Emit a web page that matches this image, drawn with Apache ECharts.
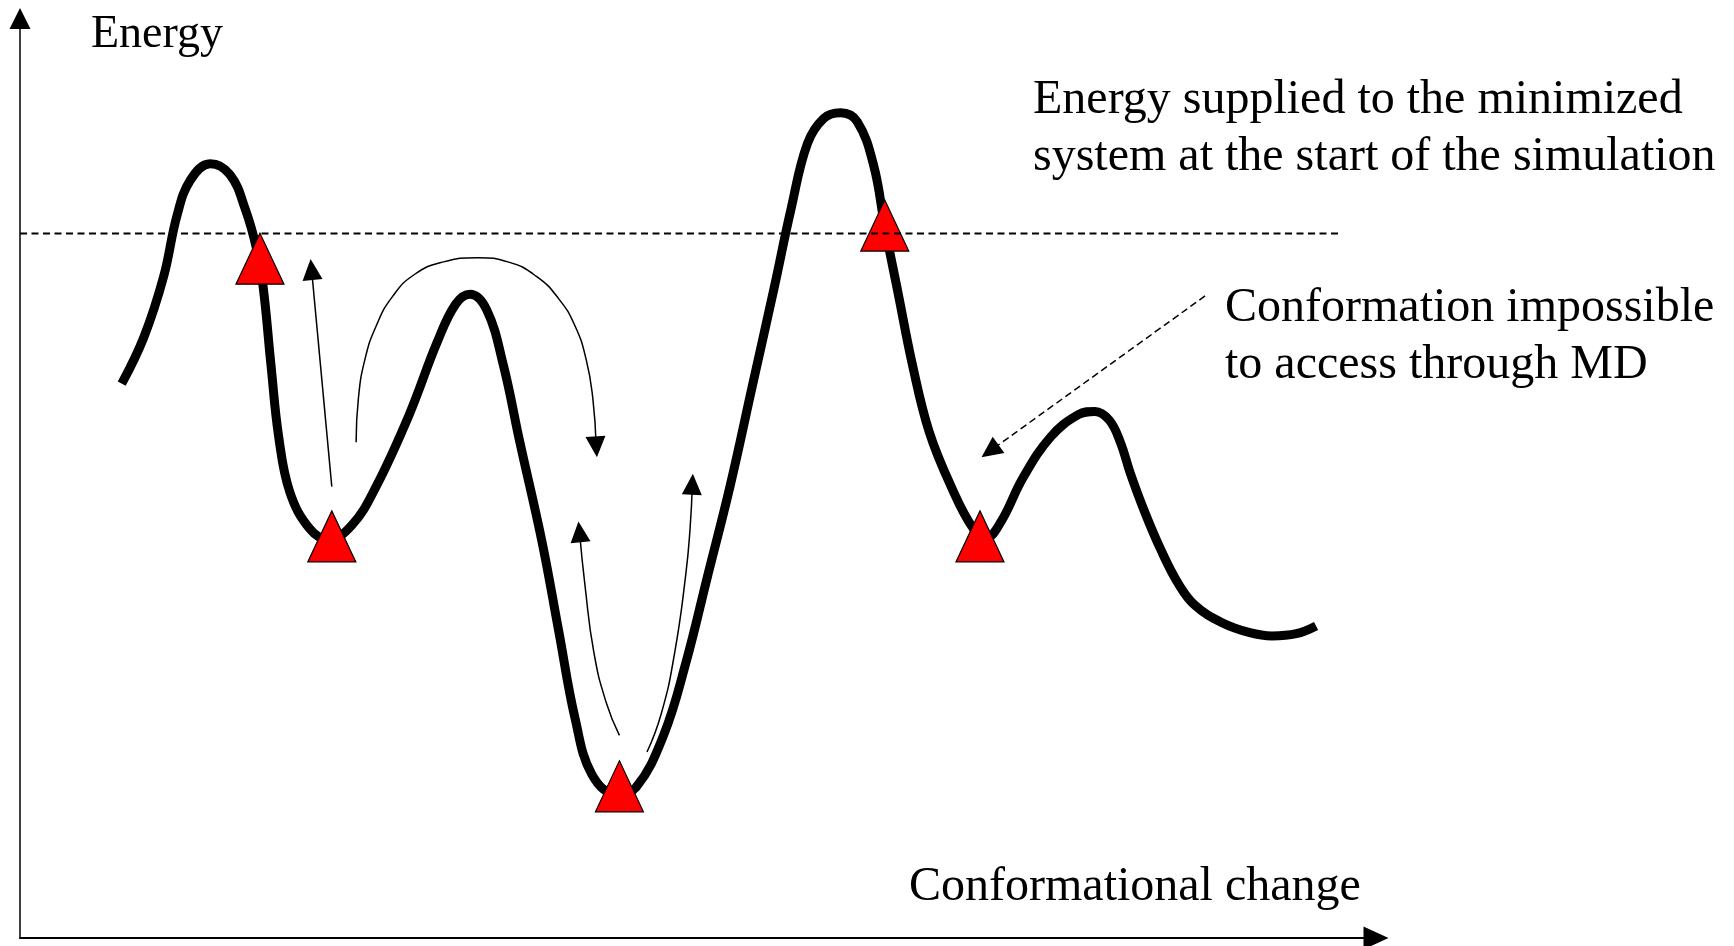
<!DOCTYPE html>
<html>
<head>
<meta charset="utf-8">
<title>Energy landscape</title>
<script src="https://cdn.jsdelivr.net/npm/echarts@6/dist/echarts.min.js"></script>
<style>
  html, body { margin: 0; padding: 0; background: #fff; }
  #chart { width: 1734px; height: 946px; }
</style>
</head>
<body>
<div id="chart"></div>
<script>
// energy profile along the conformational coordinate (arbitrary units, 0-100)
const landscape = [
  [7.49, 60.71], [9.12, 65.80], [10.58, 72.46], [11.56, 79.12], [12.54, 83.0],
  [14.0, 84.81], [15.47, 83.60], [16.61, 79.73], [17.42, 75.49], [17.91, 71.25],
  [18.48, 62.77], [19.05, 54.89], [19.87, 48.84], [21.33, 44.84], [22.72, 43.63],
  [24.43, 45.20], [26.22, 49.44], [28.66, 57.32], [30.70, 65.19], [32.08, 69.43],
  [33.14, 70.52], [34.36, 68.82], [35.59, 62.77], [36.81, 54.29], [38.44, 43.39],
  [39.66, 33.70], [40.88, 24.01], [42.10, 17.95], [43.89, 15.77], [45.36, 16.50],
  [47.39, 22.19], [49.02, 30.06], [50.65, 39.75], [52.28, 49.44], [53.91, 60.34],
  [55.54, 71.25], [56.76, 79.73], [57.98, 86.99], [59.20, 89.78], [60.42, 90.38],
  [61.65, 89.42], [62.87, 84.57], [63.68, 77.91], [64.66, 70.64], [65.72, 62.77],
  [66.94, 55.50], [68.57, 49.44], [70.20, 44.84], [71.17, 43.87], [72.23, 45.57],
  [73.86, 50.41], [75.90, 54.89], [77.93, 57.32], [79.16, 57.68], [80.22, 56.71],
  [81.03, 54.29], [81.76, 50.90], [82.82, 46.66], [84.04, 42.42], [85.26, 38.90],
  [86.49, 36.48], [88.52, 34.54], [90.56, 33.45], [92.19, 33.09], [93.98, 33.33],
  [95.44, 34.18]
];

// states visited by the simulation (red triangles)
const states = [[17.67, 74.40], [22.96, 43.99], [44.14, 16.62], [63.68, 78.03], [70.69, 43.99]];

// energy given to the minimized system (dashed level)
const suppliedLevel = [[0, 77.16], [97.2, 77.16]];

// thin arrows, tail first, last point = middle of the arrow head
const jumpBack = [[22.96, 49.44], [21.47, 73.22]];
const hopOver = [
  [24.75, 54.29], [24.92, 59.13], [25.40, 63.37], [26.22, 67.01], [27.44, 70.28],
  [29.07, 72.70], [31.11, 74.03], [33.71, 74.52], [35.99, 74.03], [38.03, 72.46],
  [39.66, 70.03], [40.88, 67.01], [41.69, 63.37], [42.18, 59.13], [42.43, 53.80]
];
const fallBack = [[44.14, 22.19], [43.16, 25.82], [42.26, 31.27], [41.61, 38.54], [41.20, 44.48]];
const climbOut = [[46.17, 20.37], [47.23, 24.61], [48.21, 31.27], [49.02, 39.75], [49.35, 45.0], [49.51, 49.69]];
const blockedPath = [[87.26, 70.32], [71.43, 53.34]];

const serif = '"Liberation Serif", "Times New Roman", serif';

const chart = echarts.init(document.getElementById('chart'));

function arrowBody(path, dashed) {
  return {
    type: 'line',
    data: path,
    smooth: 0.5,
    symbol: 'none',
    silent: true,
    z: 4,
    lineStyle: { color: '#000', width: 1.5, type: dashed ? [7, 4] : 'solid' }
  };
}

// short invisible segment at the end of each path, it only carries the head
const heads = [jumpBack, hopOver, fallBack, climbOut, blockedPath].map(function (path) {
  const to = path[path.length - 1];
  const prev = path[path.length - 2];
  const from = [to[0] + (prev[0] - to[0]) * 0.3, to[1] + (prev[1] - to[1]) * 0.3];
  return { coords: [from, to] };
});

const options = {
  backgroundColor: '#fff',
  animation: false,
  grid: { left: 20, right: 356, top: 25, bottom: 8 },
  xAxis: {
    type: 'value',
    min: 0,
    max: 100,
    axisLine: {
      onZero: false,
      symbol: ['none', 'triangle'],
      symbolSize: [23, 25],
      symbolOffset: [0, -2],
      lineStyle: { color: '#000', width: 2 }
    },
    axisTick: { show: false },
    axisLabel: { show: false },
    splitLine: { show: false }
  },
  yAxis: {
    type: 'value',
    min: 0,
    max: 100,
    axisLine: {
      show: true,
      onZero: false,
      symbol: ['none', 'triangle'],
      symbolSize: [21, 21],
      symbolOffset: [0, 6.5],
      lineStyle: { color: '#000', width: 1.5 }
    },
    axisTick: { show: false },
    axisLabel: { show: false },
    splitLine: { show: false }
  },
  graphic: [
    {
      type: 'text', x: 91, y: 34.5, silent: true,
      style: { text: 'Energy', font: '46px ' + serif, fill: '#000', align: 'left', verticalAlign: 'middle' }
    },
    {
      type: 'text', x: 1033, y: 129.2, silent: true,
      style: {
        text: 'Energy supplied to the minimized\nsystem at the start of the simulation',
        font: '48px ' + serif, lineHeight: 57.3, fill: '#000', align: 'left', verticalAlign: 'middle'
      }
    },
    {
      type: 'text', x: 1225, y: 336.7, silent: true,
      style: {
        text: 'Conformation impossible\nto access through MD',
        font: '48px ' + serif, lineHeight: 57.3, fill: '#000', align: 'left', verticalAlign: 'middle'
      }
    },
    {
      type: 'text', x: 909, y: 887.5, silent: true,
      style: { text: 'Conformational change', font: '48px ' + serif, fill: '#000', align: 'left', verticalAlign: 'middle' }
    }
  ],
  series: [
    {
      type: 'line',
      data: landscape,
      smooth: 0.4,
      symbol: 'none',
      silent: true,
      z: 1,
      lineStyle: { color: '#000', width: 9 }
    },
    {
      type: 'scatter',
      data: states,
      symbol: 'triangle',
      symbolSize: [48, 51],
      silent: true,
      z: 2,
      itemStyle: { color: '#ff0000', opacity: 1, borderColor: '#000', borderWidth: 1.2 }
    },
    {
      type: 'line',
      data: suppliedLevel,
      symbol: 'none',
      silent: true,
      z: 3,
      lineStyle: { color: '#000', width: 2, type: [7, 4.5] }
    },
    arrowBody(jumpBack, false),
    arrowBody(hopOver, false),
    arrowBody(fallBack, false),
    arrowBody(climbOut, false),
    arrowBody(blockedPath, true),
    {
      type: 'lines',
      coordinateSystem: 'cartesian2d',
      data: heads,
      symbol: ['none', 'triangle'],
      symbolSize: [0, [20, 21]],
      silent: true,
      z: 5,
      lineStyle: { color: '#000', width: 0, opacity: 1 }
    }
  ]
};

chart.setOption(options);
</script>
</body>
</html>
